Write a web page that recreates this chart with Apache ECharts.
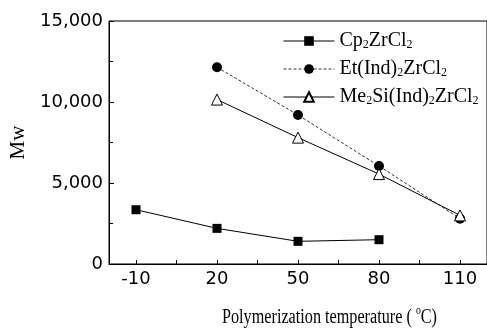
<!DOCTYPE html>
<html><head><meta charset="utf-8">
<script src="https://cdn.jsdelivr.net/npm/echarts@6/dist/echarts.min.js"></script>
<style>html,body{margin:0;padding:0;background:#fff}#c{width:487px;height:328px}</style>
</head><body><div id="c"></div>
<script>
const temps = [-10, 20, 50, 80, 110];
const cp2 = [3350, 2200, 1400, 1500, null];
const etInd = [null, 12150, 9200, 6050, 2800];
const me2si = [null, 10150, 7800, 5550, 3000];
const xTickLabels = [-10, 20, 50, 80, 110];
const xMinorTicks = [-10, 5, 20, 35, 50, 65, 80, 95, 110];
const names = ['Cp2ZrCl2', 'Et(Ind)2ZrCl2', 'Me2Si(Ind)2ZrCl2'];
const richNames = {
  'Cp2ZrCl2': '{n|Cp}{s|2}{n|ZrCl}{s|2}',
  'Et(Ind)2ZrCl2': '{n|Et(Ind)}{s|2}{n|ZrCl}{s|2}',
  'Me2Si(Ind)2ZrCl2': '{n|Me}{s|2}{n|Si(Ind)}{s|2}{n|ZrCl}{s|2}'
};
function pairs(arr){ const o=[]; arr.forEach((v,i)=>{ if(v!==null) o.push([temps[i], v]); }); return o; }
const serif = '"Liberation Serif","Times New Roman",serif';
const sans = '"DejaVu Sans",Arial,sans-serif';
const chart = echarts.init(document.getElementById('c'));
chart.setOption({
  animation: false,
  backgroundColor: '#fff',
  grid: { left: 106, top: 21, width: 388.5, height: 243, show: true, borderColor: '#000', borderWidth: 1 },
  xAxis: {
    type: 'value', min: -20, max: 120,
    axisLine: { onZero: false, lineStyle: { color: '#000', width: 1 } },
    axisTick: { inside: true, length: 4, customValues: xMinorTicks, lineStyle: { color: '#000' } },
    axisLabel: { customValues: xTickLabels, color: '#000', fontFamily: sans, fontSize: 18, margin: 6 },
    splitLine: { show: false }
  },
  yAxis: {
    type: 'value', min: 0, max: 15000, interval: 5000,
    axisLine: { show: true, onZero: false, lineStyle: { color: '#000', width: 1 } },
    axisTick: { show: true, inside: true, length: 5, lineStyle: { color: '#000' } },
    minorTick: { show: true, splitNumber: 2, length: 4, lineStyle: { color: '#000' } },
    axisLabel: { color: '#000', fontFamily: sans, fontSize: 18, margin: 6,
      formatter: v => v.toString().replace(/\B(?=(\d{3})+(?!\d))/g, ',') },
    splitLine: { show: false },
    name: 'Mw', nameLocation: 'middle', nameGap: 80, nameRotate: 90,
    nameTextStyle: { color: '#000', fontFamily: serif, fontSize: 21 }
  },
  legend: {
    orient: 'vertical', left: 278, top: 26, itemWidth: 51, itemHeight: 12, itemGap: 8,
    data: names,
    lineStyle: { width: 1 },
    formatter: n => richNames[n],
    textStyle: { color: '#000', rich: {
      n: { fontFamily: serif, fontSize: 20, lineHeight: 20, color: '#000' },
      s: { fontFamily: serif, fontSize: 12, lineHeight: 20, color: '#000', verticalAlign: 'bottom', padding: [8,0,0,0] }
    } }
  },
  series: [
    { name: names[0], type: 'line', data: pairs(cp2), symbol: 'rect', symbolSize: 9,
      lineStyle: { color: '#000', width: 1 }, itemStyle: { color: '#000' } },
    { name: names[1], type: 'line', data: pairs(etInd), symbol: 'circle', symbolSize: 10,
      lineStyle: { color: '#333', width: 1, type: [3, 2] }, itemStyle: { color: '#000' } },
    { name: names[2], type: 'line', data: pairs(me2si), symbol: 'triangle', symbolSize: 11,
      lineStyle: { color: '#000', width: 1 }, itemStyle: { color: '#fff', borderColor: '#000', borderWidth: 1 } }
  ],
  graphic: [{
    type: 'text', x: 222, y: 305, scaleX: 0.81,
    style: { text: '{n|Polymerization temperature ( }{o|o}{n|C)}', rich: {
      n: { fontFamily: serif, fontSize: 20, lineHeight: 26, fill: '#000' },
      o: { fontFamily: serif, fontSize: 12, lineHeight: 26, fill: '#000', padding: [0,0,14,0] }
    } }
  }]
});
</script></body></html>
